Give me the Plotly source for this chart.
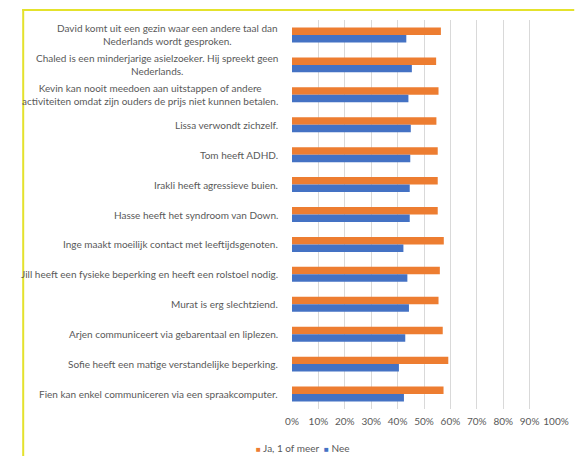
import plotly.graph_objects as go

# Statements (top to bottom as shown)
statements = [
    "David komt uit een gezin waar een andere taal dan<br>Nederlands wordt gesproken.",
    "Chaled is een minderjarige asielzoeker. Hij spreekt geen<br>Nederlands.",
    "Kevin kan nooit meedoen aan uitstappen of andere<br>activiteiten omdat zijn ouders de prijs niet kunnen betalen.",
    "Lissa verwondt zichzelf.",
    "Tom heeft ADHD.",
    "Irakli heeft agressieve buien.",
    "Hasse heeft het syndroom van Down.",
    "Inge maakt moeilijk contact met leeftijdsgenoten.",
    "Jill heeft een fysieke beperking en heeft een rolstoel nodig.",
    "Murat is erg slechtziend.",
    "Arjen communiceert via gebarentaal en liplezen.",
    "Sofie heeft een matige verstandelijke beperking.",
    "Fien kan enkel communiceren via een spraakcomputer.",
]

ja_values = [0.564, 0.546, 0.555, 0.547, 0.552, 0.552, 0.552, 0.575, 0.560, 0.555, 0.571, 0.592, 0.574]
nee_values = [0.433, 0.454, 0.441, 0.450, 0.448, 0.446, 0.446, 0.422, 0.437, 0.443, 0.429, 0.405, 0.424]

series_names = ["Ja, 1 of meer", "Nee"]
colors = ["#ED7D31", "#4472C4"]

x_ticks = [i / 10 for i in range(11)]
x_tick_labels = [f"{i * 10}%" for i in range(11)]

W, H = 581, 456
L, R, T, B = 292, 14, 20, 47
plot_w = W - L - R
plot_h = H - T - B


def px_x(px):
    return (px - L) / plot_w


def px_y(py):
    return (H - B - py) / plot_h


cat_ids = list(range(len(statements)))
text_color = "#595959"
font_family = "Lato, 'Open Sans', sans-serif"

fig = go.Figure()
for name, vals, col in zip(series_names, [ja_values, nee_values], colors):
    fig.add_trace(go.Bar(
        y=cat_ids, x=vals, name=name, orientation="h",
        marker=dict(color=col, line=dict(width=0)),
        showlegend=False,
    ))

# Category labels, wrapped lines centred within each label
for i, s in zip(cat_ids, statements):
    fig.add_annotation(
        x=px_x(280), xref="paper", y=i, yref="y",
        text=s, showarrow=False, xanchor="right", yanchor="middle",
        align="center",
        font=dict(size=10, color=text_color, family=font_family),
    )

# Legend as a compact row of coloured squares and series names
legend_text = "  ".join(
    f'<span style="color:{c}; font-size:8px">■</span> {n}'
    for n, c in zip(series_names, colors)
)
fig.add_annotation(
    x=px_x(303), xref="paper", y=px_y(448), yref="paper",
    text=legend_text, showarrow=False, xanchor="center", yanchor="middle",
    font=dict(size=10, color=text_color, family=font_family),
)

# Yellow frame lines (top and left)
yellow = "#E4E22C"
fig.add_shape(type="line", xref="paper", yref="paper",
              x0=px_x(11), x1=px_x(W + 5), y0=px_y(10), y1=px_y(10),
              line=dict(color=yellow, width=2))
fig.add_shape(type="line", xref="paper", yref="paper",
              x0=px_x(12), x1=px_x(12), y0=px_y(9), y1=px_y(H + 5),
              line=dict(color=yellow, width=2))

fig.update_layout(
    width=W, height=H,
    margin=dict(l=L, r=R, t=T, b=B),
    paper_bgcolor="white", plot_bgcolor="white",
    barmode="group", bargap=0.5, bargroupgap=0,
    font=dict(family=font_family, color=text_color, size=10),
    showlegend=False,
)
fig.update_xaxes(
    range=[0, 1], tickvals=x_ticks, ticktext=x_tick_labels,
    showgrid=True, gridcolor="#D9D9D9", gridwidth=1,
    zeroline=False, showline=False, ticks="",
    ticklabelstandoff=5,
    tickfont=dict(size=10, color=text_color),
)
fig.update_yaxes(
    range=[len(statements) - 0.5, -0.5], showticklabels=False,
    showgrid=False, zeroline=False, showline=False, ticks="",
)

fig.write_html("out.html")
